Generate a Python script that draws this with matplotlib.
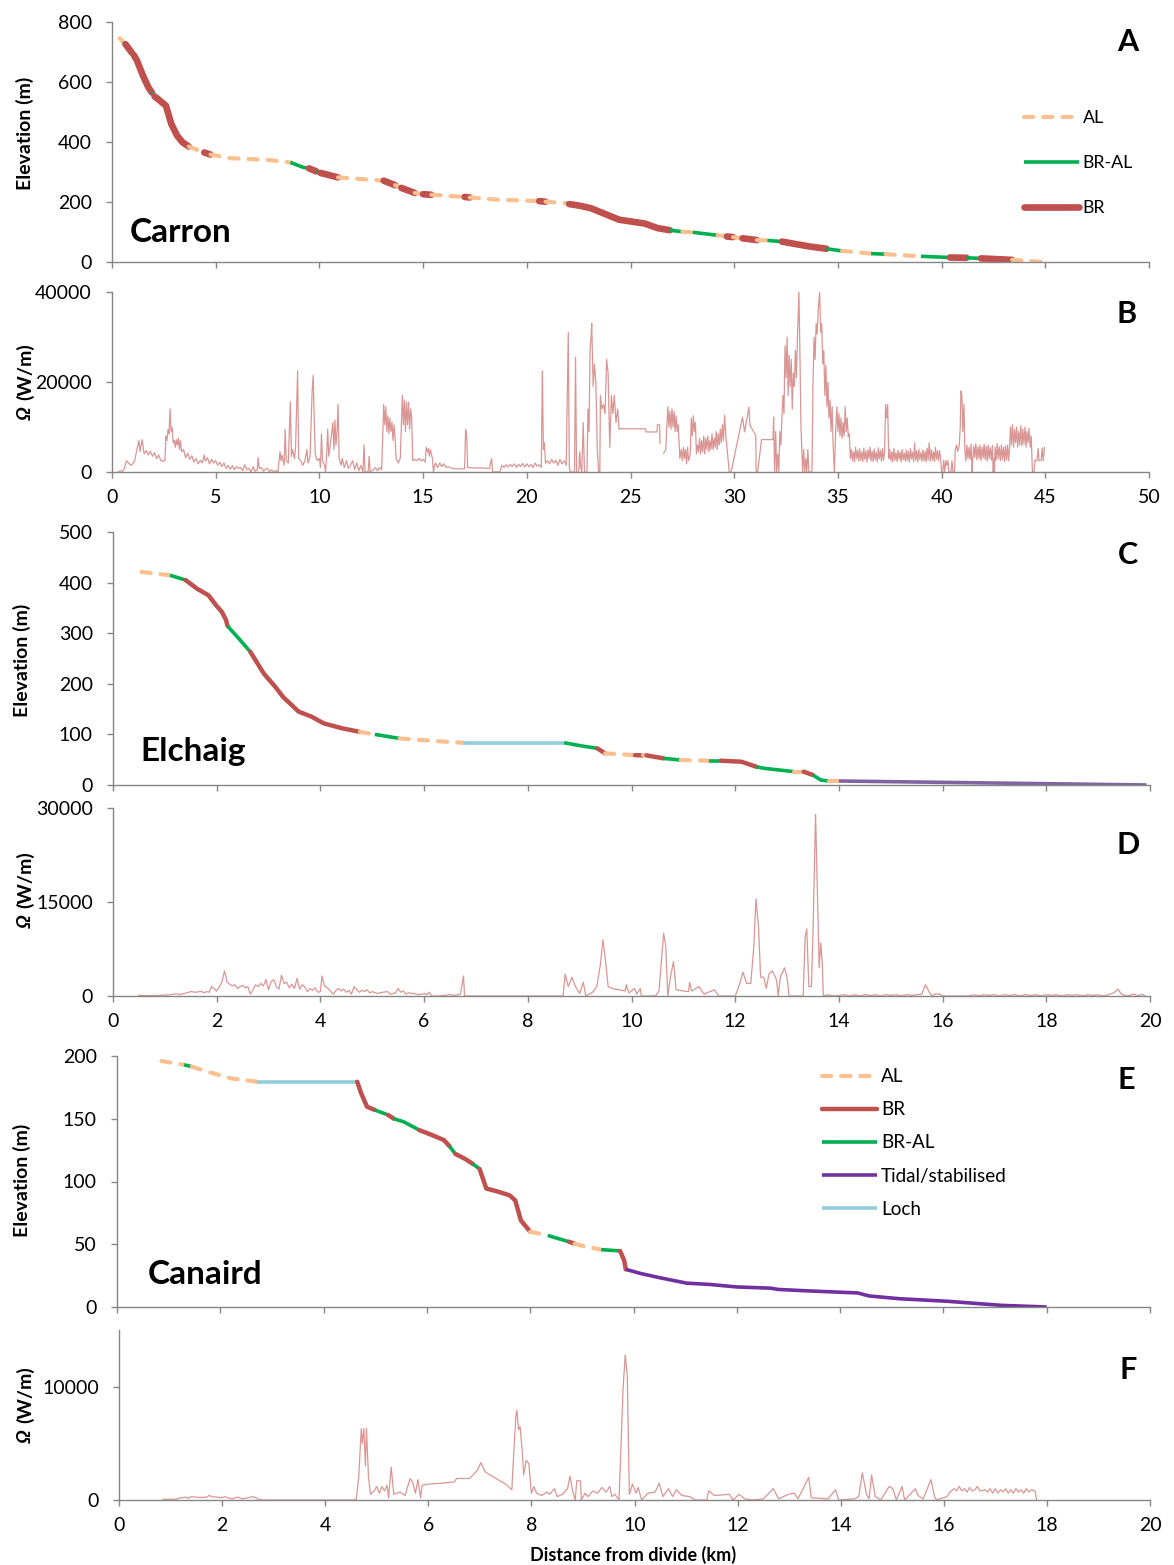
import numpy as np
import matplotlib
matplotlib.use("Agg")
import matplotlib.pyplot as plt
from matplotlib.lines import Line2D

plt.rcParams['font.family'] = ['Lato', 'DejaVu Sans']

# ---- data ----
# profiles: (distance km, elevation m, class of the reach starting at this point)
carron_profile = [
    (0.37, 746, 'AL'), (0.55, 732, 'BA'), (0.65, 726, 'BR'), (0.95, 698, 'BA'), (1.05, 690, 'BR'),
    (1.2, 672, 'BR'), (1.5, 620, 'BR'), (1.75, 583, 'BR'), (1.92, 565, 'BA'), (2.05, 552, 'BR'),
    (2.2, 544, 'BR'), (2.6, 521, 'BR'), (2.86, 460, 'BR'), (3.14, 421, 'BR'), (3.4, 399, 'BR'),
    (3.7, 385, 'AL'), (4.45, 365, 'BR'), (4.75, 358, 'AL'), (5.7, 346, 'AL'), (7.56, 340, 'AL'),
    (8.6, 332, 'BA'), (9.2, 316, 'BA'), (9.5, 312, 'BR'), (9.85, 302, 'BA'), (10.05, 297, 'BR'),
    (10.9, 282, 'AL'), (13.1, 271, 'BR'), (13.65, 256, 'AL'), (13.95, 247, 'BR'), (14.6, 230, 'AL'),
    (15.0, 226, 'BR'), (15.4, 224, 'AL'), (17.0, 217, 'BR'), (17.25, 215, 'AL'), (18.6, 208, 'AL'),
    (20.6, 203, 'BR'), (20.9, 201, 'AL'), (21.9, 196, 'BA'), (22.05, 193, 'BR'), (22.6, 187, 'BR'),
    (23.1, 179, 'BR'), (23.6, 165, 'BR'), (24.45, 141, 'BR'), (25.7, 128, 'BR'), (26.3, 113, 'BR'),
    (26.9, 106, 'BA'), (27.5, 101, 'AL'), (28.0, 99, 'BA'), (29.2, 89, 'AL'), (29.65, 85, 'BR'),
    (29.95, 83, 'AL'), (30.4, 79, 'BR'), (31.1, 73, 'AL'), (31.6, 72, 'BA'), (32.3, 68, 'BR'),
    (33.6, 52, 'BR'), (34.45, 44, 'BA'), (35.2, 37, 'AL'), (36.6, 28, 'BA'), (37.3, 26, 'AL'),
    (39.0, 19, 'BA'), (40.4, 15, 'BR'), (41.2, 14, 'BA'), (41.9, 12, 'BR'), (43.4, 7, 'AL'),
    (45.0, 0, None),
]

elchaig_profile = [
    (0.55, 421, 'AL'), (1.1, 414.5, 'BA'), (1.4, 405, 'BR'), (1.62, 388, 'BR'), (1.84, 375, 'BR'),
    (1.99, 355, 'BR'), (2.1, 342, 'BR'), (2.18, 326, 'BR'), (2.21, 314, 'BA'), (2.43, 289, 'BA'),
    (2.65, 263, 'BR'), (2.91, 220, 'BR'), (3.13, 194, 'BR'), (3.28, 174, 'BR'), (3.58, 145, 'BR'),
    (3.83, 135, 'BR'), (4.06, 122, 'BR'), (4.42, 112, 'BR'), (4.76, 105, 'AL'), (5.05, 100, 'BA'),
    (5.53, 92, 'AL'), (6.2, 87, 'AL'), (6.75, 83.5, 'LO'), (8.7, 83.5, 'BA'), (9.05, 77, 'BA'),
    (9.34, 72.4, 'BR'), (9.49, 62.5, 'AL'), (10.07, 59, 'BR'), (10.22, 58.5, 'AL'), (10.29, 58.5, 'BR'),
    (10.62, 52.6, 'BA'), (10.95, 49.3, 'AL'), (11.5, 48, 'BA'), (11.72, 48, 'BR'), (12.12, 46, 'BR'),
    (12.41, 36, 'BA'), (12.55, 33, 'BA'), (13.14, 26.3, 'AL'), (13.32, 26.3, 'BR'), (13.5, 19.7, 'BA'),
    (13.65, 9.9, 'BA'), (13.8, 7.9, 'AL'), (14.0, 7.9, 'TS'), (19.93, 0, None),
]

canaird_profile = [
    (0.86, 196, 'AL'), (1.3, 193, 'BA'), (1.45, 191.5, 'AL'), (1.79, 187, 'AL'), (2.23, 182, 'AL'),
    (2.72, 179.5, 'LO'), (4.65, 179.5, 'BR'), (4.73, 170, 'BR'), (4.84, 159.6, 'BR'), (4.99, 157, 'BA'),
    (5.25, 153, 'BR'), (5.36, 150, 'BA'), (5.55, 147.6, 'BA'), (5.85, 141, 'BR'), (6.1, 137, 'BR'),
    (6.33, 133, 'BR'), (6.44, 128, 'BA'), (6.55, 122, 'BR'), (6.74, 118, 'BR'), (6.89, 114, 'BA'),
    (7.02, 110, 'BR'), (7.15, 94.4, 'BR'), (7.37, 92, 'BR'), (7.6, 89, 'BR'), (7.71, 85, 'BR'),
    (7.82, 69, 'BR'), (8.0, 60, 'AL'), (8.34, 57, 'BA'), (8.75, 52, 'BR'), (8.86, 50.5, 'AL'),
    (9.04, 48.4, 'AL'), (9.375, 45.7, 'BA'), (9.74, 44.7, 'BR'), (9.82, 37, 'BR'), (9.85, 30, 'TS'),
    (10.15, 26.6, 'TS'), (10.5, 23.4, 'TS'), (11.03, 19, 'TS'), (11.47, 18, 'TS'), (11.99, 16, 'TS'),
    (12.65, 15, 'TS'), (12.8, 14, 'TS'), (13.4, 12.8, 'TS'), (14.34, 11.2, 'TS'), (14.56, 8.8, 'TS'),
    (15.15, 6.6, 'TS'), (15.74, 5.3, 'TS'), (16.1, 4.5, 'TS'), (17.13, 1.3, 'TS'), (18.0, 0, None),
]

# stream power: (distance km, omega W/m); None = gap in the record
carron_omega = [
    (0.30, 0), (0.40, 300), (0.50, 100), (0.60, 800), (0.70, 2500), (0.80, 2000), (0.90, 1500), (1.00, 1800),
    (1.10, 2600), (1.20, 5000), (1.30, 7000), (1.35, 4500), (1.45, 7200), (1.55, 4000), (1.65, 4800), (1.75, 3800),
    (1.85, 4600), (1.95, 3500), (2.05, 4300), (2.15, 3000), (2.25, 3800), (2.35, 2600), (2.45, 2400), (2.55, 2500),
    (2.60, 8000), (2.65, 7000), (2.70, 9500), (2.75, 8500), (2.80, 14000), (2.85, 9000), (2.90, 10000), (2.95, 6500),
    (3.00, 7000), (3.05, 5500), (3.10, 7200), (3.15, 6000), (3.20, 7500), (3.25, 5000), (3.30, 7000), (3.35, 4500),
    (3.45, 5000), (3.55, 3200), (3.65, 4200), (3.75, 2800), (3.85, 3600), (3.95, 2200), (4.05, 3000), (4.15, 1800),
    (4.25, 2600), (4.35, 2000), (4.45, 3800), (4.50, 2400), (4.60, 3200), (4.70, 1800), (4.80, 2800), (4.90, 2000),
    (5.00, 2500), (5.10, 1500), (5.20, 2200), (5.30, 1200), (5.40, 2000), (5.50, 800), (5.60, 1500), (5.70, 600),
    (5.80, 1400), (5.90, 500), (6.00, 1200), (6.10, 800), (6.20, 1000), (6.30, 300), (6.40, 1600), (6.50, 500),
    (6.60, 800), (6.70, 0), (6.80, 1200), (6.90, 200), (7.00, 500), (7.05, 3200), (7.10, 800), (7.20, 1000),
    (7.30, 200), (7.40, 600), (7.50, 800), (7.60, 100), (7.70, 500), (7.80, 0), (7.90, 300), (8.00, 0),
    (8.10, 4500), (8.15, 2500), (8.20, 3800), (8.30, 1500), (8.35, 9500), (8.40, 2500), (8.50, 2000), (8.60, 15500),
    (8.65, 3500), (8.70, 5000), (8.80, 3000), (8.85, 5500), (8.95, 22500), (9.00, 3000), (9.10, 2500), (9.20, 1500),
    (9.30, 2500), (9.40, 5000), (9.45, 2000), (9.55, 3500), (9.65, 18000), (9.70, 21500), (9.75, 12000), (9.80, 4000),
    (9.90, 2500), (10.00, 3000), (10.05, 1000), (10.10, 8500), (10.15, 2500), (10.25, 1500), (10.30, 0), (10.35, 4000),
    (10.40, 9500), (10.45, 3500), (10.55, 7000), (10.65, 11000), (10.70, 5000), (10.75, 11500), (10.80, 6000),
    (10.85, 9000), (10.90, 15000), (10.95, 3000), (11.05, 1500), (11.10, 3000), (11.20, 1000), (11.30, 2500),
    (11.40, 800), (11.50, 1500), (11.60, 2500), (11.70, 500), (11.80, 2000), (11.90, 300), (12.00, 1500), (12.10, 0),
    (12.15, 6000), (12.20, 0), (12.35, 0), (12.40, 3500), (12.45, 0), (12.60, 500), (12.70, 1000), (12.80, 300),
    (12.90, 1000), (13.00, 500), (13.10, 15000), (13.15, 10500), (13.20, 14500), (13.25, 9000), (13.30, 12500),
    (13.35, 8500), (13.40, 12000), (13.45, 9000), (13.50, 11000), (13.55, 7000), (13.60, 10500), (13.65, 7500),
    (13.70, 3000), (13.80, 2000), (13.90, 3000), (14.00, 17000), (14.05, 10500), (14.10, 16000), (14.15, 9000),
    (14.20, 15500), (14.25, 10500), (14.30, 15500), (14.35, 9500), (14.40, 14000), (14.45, 12000), (14.50, 2500),
    (14.60, 2800), (14.70, 2500), (14.80, 3000), (14.90, 2500), (15.00, 2800), (15.10, 2200), (15.15, 5500),
    (15.20, 4500), (15.25, 5200), (15.30, 3500), (15.35, 5000), (15.45, 3000), (15.50, 0), (15.55, 1500),
    (15.60, 2000), (15.70, 1000), (15.80, 2000), (15.90, 1200), (16.00, 1800), (16.10, 1000), (16.20, 1200),
    (16.40, 800), (16.60, 700), (16.80, 700), (17.00, 700), (17.05, 9500), (17.10, 8000), (17.15, 1000),
    (17.40, 900), (17.80, 900), (18.20, 800), (18.30, 3000), (18.35, 0), (18.70, 0), (18.80, 1500), (18.90, 1000),
    (19.00, 1600), (19.10, 1100), (19.20, 1700), (19.30, 1200), (19.40, 1800), (19.50, 1000), (19.60, 1700),
    (19.70, 1200), (19.80, 1900), (19.90, 1100), (20.00, 1800), (20.10, 1200), (20.20, 1700), (20.30, 1000),
    (20.40, 2000), (20.50, 1300), (20.60, 1600), (20.70, 1000), (20.75, 22500), (20.80, 5000), (20.85, 6500),
    (20.90, 2000), (21.00, 2500), (21.10, 1800), (21.20, 2800), (21.30, 2000), (21.40, 2600), (21.50, 1500),
    (21.60, 2800), (21.70, 1800), (21.80, 2500), (21.90, 1500), (22.00, 31000), (22.05, 1000), (22.10, 0),
    (22.30, 0), (22.35, 25500), (22.40, 0), (22.50, 0), (22.55, 4500), (22.60, 1000), (22.65, 0), (22.72, 11000),
    (22.78, 0), (22.90, 0), (22.95, 14000), (23.00, 9000), (23.05, 27000), (23.10, 30000), (23.13, 33000),
    (23.20, 19000), (23.26, 24000), (23.33, 20000), (23.40, 5000), (23.46, 0), (23.52, 0), (23.55, 17000),
    (23.62, 14000), (23.70, 15000), (23.77, 13000), (23.85, 25000), (23.92, 22000), (24.00, 5500), (24.08, 17000),
    (24.15, 13000), (24.22, 17000), (24.30, 11000), (24.38, 14000), (24.45, 9500), (24.50, 9600), (25.73, 9600),
    (25.75, 8900), (26.28, 8900), (26.30, 10500), (26.40, 10500), (26.42, 6300), (26.50, None), (26.60, 4200),
    (26.70, 5000), (26.80, 14500), (26.85, 10000), (26.90, 13500), (26.95, 9500), (27.00, 14000), (27.05, 10000),
    (27.10, 13500), (27.15, 9000), (27.20, 12500), (27.25, 9000), (27.30, 10500), (27.38, 3000), (27.45, 5000),
    (27.50, 2500), (27.55, 5500), (27.60, 3000), (27.65, 5000), (27.70, 1800), (27.75, 5500), (27.80, 2500),
    (27.88, 4000), (27.93, 12000), (27.98, 8000), (28.03, 12500), (28.08, 9000), (28.13, 11000), (28.18, 4000),
    (28.23, 6000), (28.28, 4500), (28.33, 7500), (28.38, 4000), (28.43, 7000), (28.48, 4500), (28.53, 8000),
    (28.58, 4000), (28.63, 7500), (28.68, 5000), (28.73, 8000), (28.78, 4500), (28.83, 7000), (28.88, 5000),
    (28.93, 8500), (28.98, 5000), (29.03, 7500), (29.08, 5500), (29.13, 9000), (29.18, 5000), (29.23, 8500),
    (29.28, 6000), (29.33, 9500), (29.38, 6500), (29.43, 10500), (29.48, 7000), (29.54, 12600), (29.60, 8000),
    (29.76, 0), (29.85, 0), (30.40, 12200), (30.50, 8900), (30.71, 14400), (30.76, 10400), (31.04, 8100),
    (31.06, 0), (31.13, 0), (31.32, 7200), (31.87, 7200), (31.90, 12200), (31.95, 0), (32.00, 9000), (32.05, 0),
    (32.10, 4000), (32.15, 0), (32.20, 9000), (32.25, 6000), (32.30, 12000), (32.35, 17000), (32.40, 13000),
    (32.45, 28000), (32.50, 21000), (32.55, 30000), (32.60, 17000), (32.65, 26000), (32.70, 19000), (32.75, 25000),
    (32.80, 14000), (32.85, 22000), (32.90, 19000), (32.95, 27000), (33.00, 21000), (33.05, 30000), (33.12, 40000),
    (33.17, 26000), (33.22, 10000), (33.27, 4000), (33.30, 0), (33.35, 5000), (33.40, 0), (33.45, 3000), (33.50, 0),
    (33.55, 5000), (33.60, 0), (33.75, 0), (33.80, 20000), (33.85, 30000), (33.90, 25000), (33.95, 33000),
    (34.00, 30700), (34.05, 36000), (34.12, 40000), (34.17, 31000), (34.22, 33000), (34.27, 24000), (34.32, 27000),
    (34.37, 17000), (34.42, 23700), (34.47, 14500), (34.52, 20000), (34.57, 12000), (34.62, 16000), (34.67, 9000),
    (34.72, 14500), (34.77, 6000), (34.83, 0), (34.90, 10000), (34.95, 14500), (35.00, 9000), (35.05, 13000),
    (35.10, 8000), (35.15, 12000), (35.20, 7500), (35.25, 11000), (35.30, 8000), (35.35, 14500), (35.40, 9000),
    (35.45, 12000), (35.50, 7800), (35.55, 8500), (35.60, 3000), (35.65, 5000), (35.70, 2500), (35.75, 4500),
    (35.80, 2200), (35.85, 5500), (35.90, 3000), (35.95, 4800), (36.00, 2400), (36.05, 5200), (36.10, 2600),
    (36.15, 4500), (36.20, 2300), (36.25, 5300), (36.30, 2800), (36.35, 4700), (36.40, 2200), (36.45, 5000),
    (36.50, 3000), (36.55, 5500), (36.60, 2500), (36.65, 4600), (36.70, 2300), (36.75, 5100), (36.80, 2700),
    (36.85, 4400), (36.90, 2200), (36.95, 5400), (37.00, 2900), (37.05, 4800), (37.10, 2400), (37.15, 5200),
    (37.20, 2600), (37.25, 4600), (37.30, 15000), (37.35, 12000), (37.40, 15000), (37.45, 3000), (37.50, 5000),
    (37.55, 2500), (37.60, 4500), (37.65, 2200), (37.70, 5200), (37.75, 2600), (37.80, 4300), (37.85, 2300),
    (37.90, 4800), (37.95, 2800), (38.00, 4400), (38.05, 2200), (38.10, 5000), (38.15, 2700), (38.20, 4200),
    (38.25, 2400), (38.30, 4900), (38.35, 2500), (38.40, 4600), (38.45, 2200), (38.50, 5200), (38.55, 2900),
    (38.60, 4400), (38.65, 2300), (38.70, 6500), (38.75, 2600), (38.80, 4700), (38.85, 2200), (38.90, 5000),
    (38.95, 2800), (39.00, 4300), (39.05, 2400), (39.10, 4900), (39.15, 2500), (39.20, 4600), (39.25, 2200),
    (39.30, 5300), (39.35, 2700), (39.40, 6500), (39.45, 2400), (39.50, 5000), (39.55, 2600), (39.60, 4500),
    (39.65, 2300), (39.70, 5500), (39.75, 2800), (39.80, 4700), (39.85, 2500), (39.90, 4800), (39.95, 3000),
    (40.00, 0), (40.05, 0), (40.10, 2600), (40.15, 0), (40.20, 2500), (40.25, 1500), (40.30, 2600), (40.35, 0),
    (40.45, 0), (40.50, 2500), (40.55, 0), (40.62, 0), (40.66, 5000), (40.72, 6000), (40.78, 4500), (40.85, 6000),
    (40.90, 10000), (40.93, 18000), (40.98, 17000), (41.02, 9000), (41.08, 15000), (41.12, 5000), (41.17, 2500),
    (41.22, 6000), (41.27, 3000), (41.32, 5500), (41.37, 2800), (41.42, 6200), (41.47, 0), (41.50, 2600),
    (41.55, 5800), (41.60, 3200), (41.65, 6300), (41.70, 2700), (41.75, 5600), (41.80, 3000), (41.85, 6000),
    (41.90, 2500), (41.95, 5500), (42.00, 3100), (42.05, 6200), (42.10, 2800), (42.15, 5700), (42.20, 2400),
    (42.25, 6000), (42.30, 3000), (42.35, 5400), (42.40, 2600), (42.45, 5900), (42.49, 0), (42.52, 3000),
    (42.55, 0), (42.58, 5500), (42.63, 2600), (42.68, 6300), (42.73, 3000), (42.78, 5600), (42.83, 2500),
    (42.88, 6000), (42.93, 2800), (42.98, 5500), (43.03, 2300), (43.08, 5800), (43.13, 2700), (43.18, 6000),
    (43.23, 2500), (43.28, 5600), (43.32, 10000), (43.37, 6000), (43.42, 10500), (43.47, 5500), (43.52, 9500),
    (43.57, 6500), (43.62, 10000), (43.67, 5500), (43.72, 9000), (43.77, 6000), (43.82, 10300), (43.87, 5800),
    (43.92, 9500), (43.97, 6200), (44.02, 10000), (44.07, 5500), (44.12, 9000), (44.17, 6500), (44.22, 9700),
    (44.27, 5500), (44.32, 8000), (44.38, 0), (44.45, 0), (44.50, 2600), (44.60, 2500), (44.65, 5200),
    (44.70, 2500), (44.80, 2600), (44.85, 5300), (44.90, 2500), (44.96, 5500),
]

elchaig_omega = [
    (0.5, 100), (0.7, 50), (0.9, 100), (1.0, 150), (1.1, 200), (1.2, 350), (1.3, 250), (1.4, 450), (1.5, 700),
    (1.6, 600), (1.7, 750), (1.75, 500), (1.8, 700), (1.85, 600), (1.9, 1500), (1.95, 1200), (2.0, 800),
    (2.05, 1500), (2.1, 2200), (2.15, 4000), (2.2, 2200), (2.25, 1900), (2.3, 1600), (2.35, 1800), (2.4, 1200),
    (2.45, 1500), (2.5, 1700), (2.55, 1300), (2.6, 1500), (2.65, 300), (2.7, 1000), (2.75, 1800), (2.8, 1500),
    (2.85, 2000), (2.9, 1600), (2.95, 2600), (3.0, 1000), (3.05, 2300), (3.1, 2600), (3.15, 1500), (3.2, 1100),
    (3.25, 3300), (3.3, 2000), (3.35, 2200), (3.4, 1300), (3.45, 1900), (3.5, 1200), (3.55, 2800), (3.6, 1100),
    (3.65, 1800), (3.7, 1400), (3.75, 700), (3.8, 1200), (3.85, 900), (3.9, 1300), (3.95, 600), (4.0, 700),
    (4.03, 3200), (4.08, 1600), (4.15, 1200), (4.2, 700), (4.25, 300), (4.3, 900), (4.35, 1200), (4.4, 800),
    (4.45, 1100), (4.5, 600), (4.55, 900), (4.6, 300), (4.65, 1500), (4.7, 1000), (4.75, 600), (4.8, 900),
    (4.85, 700), (4.9, 1000), (4.95, 500), (5.0, 700), (5.1, 400), (5.2, 600), (5.3, 700), (5.35, 300),
    (5.45, 500), (5.5, 1200), (5.55, 600), (5.6, 800), (5.65, 300), (5.7, 500), (5.8, 400), (5.9, 200),
    (6.0, 400), (6.05, 200), (6.1, 600), (6.15, 0), (6.3, 0), (6.4, 100), (6.5, 200), (6.6, 100), (6.7, 300),
    (6.76, 3200), (6.78, 0), (8.68, 0), (8.72, 3500), (8.78, 1500), (8.85, 3000), (8.92, 1500), (9.0, 400),
    (9.07, 2200), (9.12, 0), (9.25, 600), (9.33, 1500), (9.4, 5000), (9.45, 9000), (9.5, 5500), (9.55, 1500),
    (9.62, 1200), (9.75, 1000), (9.88, 800), (9.9, 1800), (9.95, 500), (10.06, 1200), (10.1, 300),
    (10.17, 1200), (10.19, 0), (10.46, 0), (10.53, 800), (10.6, 8000), (10.62, 10000), (10.66, 8000),
    (10.7, 0), (10.75, 3000), (10.81, 5500), (10.86, 1000), (11.0, 800), (11.1, 700), (11.12, 2200),
    (11.16, 800), (11.3, 1500), (11.4, 300), (11.6, 1000), (11.68, 0), (12.0, 0), (12.07, 1500), (12.15, 3800),
    (12.22, 2000), (12.3, 2000), (12.36, 8000), (12.4, 15500), (12.45, 11000), (12.49, 3000), (12.55, 3000),
    (12.6, 1200), (12.65, 3500), (12.72, 4000), (12.8, 2500), (12.83, 0), (12.87, 3000), (12.95, 4500),
    (13.0, 3000), (13.04, 0), (13.31, 0), (13.35, 9500), (13.38, 10700), (13.42, 1500), (13.47, 1500),
    (13.5, 10000), (13.55, 29000), (13.59, 15000), (13.62, 4500), (13.65, 8500), (13.68, 5000), (13.7, 0),
    (13.8, 200), (13.9, 0), (14.0, 100), (14.1, 200), (14.2, 0), (14.3, 200), (14.4, 0), (14.5, 200),
    (14.6, 100), (14.7, 200), (14.8, 0), (14.9, 200), (15.0, 100), (15.1, 200), (15.2, 0), (15.3, 200),
    (15.4, 100), (15.5, 200), (15.6, 300), (15.67, 1800), (15.75, 500), (15.8, 0), (15.85, 300), (15.95, 300),
    (16.0, 0), (16.5, 0), (16.6, 200), (16.7, 0), (16.8, 200), (16.9, 100), (17.0, 200), (17.1, 0), (17.2, 200),
    (17.3, 100), (17.4, 200), (17.5, 0), (17.6, 200), (17.7, 100), (17.8, 200), (17.9, 0), (18.0, 200),
    (18.1, 100), (18.2, 200), (18.3, 0), (18.4, 200), (18.5, 100), (18.6, 200), (18.7, 0), (18.8, 200),
    (18.9, 100), (19.0, 200), (19.1, 0), (19.2, 200), (19.3, 500), (19.38, 1100), (19.45, 300), (19.55, 0),
    (19.7, 300), (19.75, 0), (19.85, 300), (19.9, 0),
]

canaird_omega = [
    (0.85, 50), (1.0, 80), (1.1, 60), (1.2, 200), (1.3, 250), (1.35, 150), (1.4, 300), (1.5, 250), (1.6, 220),
    (1.7, 250), (1.75, 400), (1.8, 300), (1.9, 250), (2.0, 200), (2.05, 300), (2.1, 200), (2.2, 100), (2.3, 250),
    (2.4, 100), (2.5, 200), (2.6, 300), (2.7, 100), (2.75, 0), (4.6, 0), (4.65, 2000), (4.7, 6300), (4.72, 5000),
    (4.75, 6300), (4.78, 3000), (4.8, 6300), (4.84, 2000), (4.88, 500), (4.95, 800), (5.0, 1200), (5.05, 600),
    (5.1, 1200), (5.15, 800), (5.2, 1300), (5.23, 200), (5.28, 2900), (5.33, 500), (5.45, 700), (5.55, 400),
    (5.6, 1200), (5.65, 1900), (5.7, 1500), (5.75, 600), (5.8, 1800), (5.85, 200), (5.88, 1300), (6.0, 1400),
    (6.3, 1500), (6.5, 1600), (6.55, 1900), (6.8, 1900), (6.95, 2600), (7.02, 3300), (7.1, 2500), (7.2, 2200),
    (7.5, 1400), (7.62, 900), (7.65, 3500), (7.7, 7500), (7.72, 7900), (7.75, 6200), (7.78, 6500), (7.82, 4500),
    (7.85, 2200), (7.9, 3500), (7.95, 3200), (8.0, 600), (8.05, 1200), (8.1, 600), (8.2, 400), (8.3, 700),
    (8.35, 500), (8.45, 1000), (8.5, 300), (8.6, 500), (8.7, 1000), (8.75, 2100), (8.8, 800), (8.85, 0),
    (8.88, 1700), (8.95, 1700), (8.97, 0), (9.04, 600), (9.1, 300), (9.19, 800), (9.28, 600), (9.37, 1100),
    (9.45, 700), (9.52, 1200), (9.56, 300), (9.62, 500), (9.7, 0), (9.78, 10000), (9.82, 12800), (9.86, 11000),
    (9.9, 500), (9.96, 1400), (10.03, 600), (10.07, 1100), (10.14, 0), (10.26, 600), (10.4, 700), (10.48, 1500),
    (10.55, 300), (10.66, 1000), (10.74, 300), (10.81, 900), (10.92, 400), (11.07, 300), (11.18, 0), (11.4, 0),
    (11.44, 800), (11.55, 400), (11.84, 500), (11.91, 0), (12.03, 500), (12.14, 100), (12.3, 0), (12.5, 100),
    (12.69, 1000), (12.8, 100), (12.98, 500), (13.1, 600), (13.17, 100), (13.38, 2000), (13.43, 200),
    (13.75, 100), (13.9, 900), (13.96, 0), (14.27, 100), (14.35, 300), (14.42, 2400), (14.5, 500), (14.55, 100),
    (14.6, 2200), (14.67, 300), (14.78, 0), (14.94, 1200), (15.01, 1000), (15.08, 0), (15.19, 1200), (15.24, 0),
    (15.45, 1000), (15.5, 400), (15.6, 100), (15.75, 1800), (15.82, 300), (15.86, 0), (16.06, 300), (16.12, 700),
    (16.2, 1000), (16.25, 800), (16.3, 1200), (16.35, 800), (16.4, 1000), (16.45, 700), (16.5, 1100), (16.55, 800),
    (16.6, 900), (16.65, 1200), (16.7, 800), (16.8, 900), (16.85, 700), (16.9, 1000), (16.95, 600), (17.0, 1000),
    (17.05, 600), (17.1, 900), (17.15, 700), (17.2, 1000), (17.25, 600), (17.3, 900), (17.35, 600), (17.4, 1000),
    (17.45, 700), (17.5, 900), (17.55, 600), (17.6, 1000), (17.65, 700), (17.7, 900), (17.77, 800), (17.8, 0),
]

legend_a = [('AL', 'AL'), ('BA', 'BR-AL'), ('BR', 'BR')]
legend_e = [('AL', 'AL'), ('BR', 'BR'), ('BA', 'BR-AL'), ('TS', 'Tidal/stabilised'), ('LO', 'Loch')]

# ---- figure ----
W, H = 1174, 1565
fig = plt.figure(figsize=(W / 100, H / 100), dpi=100)
GREY = '#868686'
OMEGA_C = '#DA9694'


def add_ax(l, t, r, b):
    return fig.add_axes([l / W, 1 - b / H, (r - l) / W, (b - t) / H])


def excel_axes(ax, xmax, xstep, ymax, yticks, xlabels):
    ax.set_xlim(0, xmax)
    ax.set_ylim(0, ymax)
    ax.set_xticks(np.arange(0, xmax + 0.1, xstep))
    ax.set_yticks(yticks)
    for s in ['top', 'right']:
        ax.spines[s].set_visible(False)
    for s in ['left', 'bottom']:
        ax.spines[s].set_color(GREY)
        ax.spines[s].set_linewidth(1.0)
    ax.tick_params(direction='out', length=4.5, width=1.0, color=GREY, labelsize=14, pad=8)
    ax.tick_params(axis='y', pad=10)
    if not xlabels:
        ax.tick_params(axis='x', labelbottom=False)
    ax.patch.set_alpha(0)


def styles(big):
    return {
        'AL': dict(color='#FAC090', lw=3.0, dashes=(2.2, 2.4), dash_capstyle='round'),
        'BA': dict(color='#00B050', lw=2.6, solid_capstyle='butt'),
        'BR': dict(color='#C0504D', lw=4.8 if big else 3.2, solid_capstyle='round'),
        'TS': dict(color='#7030A0', lw=2.6, solid_capstyle='butt'),
        'LO': dict(color='#92CDDC', lw=2.6, solid_capstyle='butt'),
    }


def draw_profile(ax, pts, st):
    km = [p[0] for p in pts]
    el = [p[1] for p in pts]
    cl = [p[2] for p in pts]
    i = 0
    n = len(pts)
    while i < n - 1:
        j = i
        while j + 1 < n - 1 and cl[j + 1] == cl[i]:
            j += 1
        ax.plot(km[i:j + 2], el[i:j + 2], **st[cl[i]])
        i = j + 1


def draw_omega(ax, pts):
    km = np.array([p[0] for p in pts], dtype=float)
    om = np.array([np.nan if p[1] is None else p[1] for p in pts], dtype=float)
    ax.plot(km, om, color=OMEGA_C, lw=0.9)


def elev_label(x, y):
    fig.text(x / W, 1 - y / H, 'Elevation (m)', rotation=90, ha='center', va='center',
             fontsize=14, fontweight='bold')


def omega_label(x, y):
    # y = pixel row where the omega sign ends and "(W/m)" starts
    fig.text(x / W, 1 - (y + 2) / H, 'Ω', rotation=90, ha='center', va='top',
             fontsize=14, fontweight='bold', fontstyle='italic')
    fig.text(x / W, 1 - (y - 4) / H, '(W/m)', rotation=90, ha='center', va='bottom',
             fontsize=14, fontweight='bold')


def panel_letter(s, x, y):
    fig.text(x / W, 1 - y / H, s, ha='center', va='center', fontsize=22, fontweight='bold')


def river_name(s, x, y):
    fig.text(x / W, 1 - y / H, s, ha='left', va='center', fontsize=24, fontweight='bold')


def legend(items, st, x, y, spacing, size):
    handles = [Line2D([0], [0], **st[k]) for k, _ in items]
    fig.legend(handles, [lab for _, lab in items], loc='center left',
               bbox_to_anchor=(x / W, 1 - y / H), frameon=False, fontsize=size,
               handlelength=55 / (size * 1.389), handletextpad=0.2, labelspacing=spacing,
               borderpad=0, borderaxespad=0)


# A - Carron profile
axA = add_ax(112, 22, 1149, 262)
excel_axes(axA, 50, 5, 800, [0, 200, 400, 600, 800], False)
draw_profile(axA, carron_profile, styles(True))
elev_label(25, 133)
panel_letter('A', 1128, 42)
river_name('Carron', 130, 233)
legend(legend_a, styles(True), 1024, 163, 1.62, 12.8)

# B - Carron stream power
axB = add_ax(112, 292, 1149, 472)
excel_axes(axB, 50, 5, 40000, [0, 20000, 40000], True)
draw_omega(axB, carron_omega)
omega_label(25, 404)
panel_letter('B', 1127, 314)

# C - Elchaig profile
axC = add_ax(113, 532, 1150, 785)
excel_axes(axC, 20, 2, 500, [0, 100, 200, 300, 400, 500], False)
stC = styles(False)
stC['TS'] = dict(stC['TS'], color='#8064A2')
draw_profile(axC, elchaig_profile, stC)
elev_label(22, 660)
panel_letter('C', 1128, 555)
river_name('Elchaig', 140, 752)

# D - Elchaig stream power
axD = add_ax(113, 808, 1150, 996)
excel_axes(axD, 20, 2, 30000, [0, 15000, 30000], True)
draw_omega(axD, elchaig_omega)
omega_label(25, 912)
panel_letter('D', 1128, 845)

# E - Canaird profile
axE = add_ax(117, 1056, 1150, 1307)
excel_axes(axE, 20, 2, 200, [0, 50, 100, 150, 200], False)
draw_profile(axE, canaird_profile, styles(False))
elev_label(22, 1180)
panel_letter('E', 1126, 1080)
river_name('Canaird', 148, 1275)
legend(legend_e, styles(False), 822, 1143, 0.85, 13.6)

# F - Canaird stream power
axF = add_ax(119, 1330, 1150, 1500)
excel_axes(axF, 20, 2, 15000, [0, 10000], True)
draw_omega(axF, canaird_omega)
omega_label(25, 1427)
panel_letter('F', 1128, 1370)
fig.text(633 / W, 1 - 1555 / H, 'Distance from divide (km)', ha='center', va='center',
         fontsize=13, fontweight='bold')

fig.savefig('out.png', dpi=100)
